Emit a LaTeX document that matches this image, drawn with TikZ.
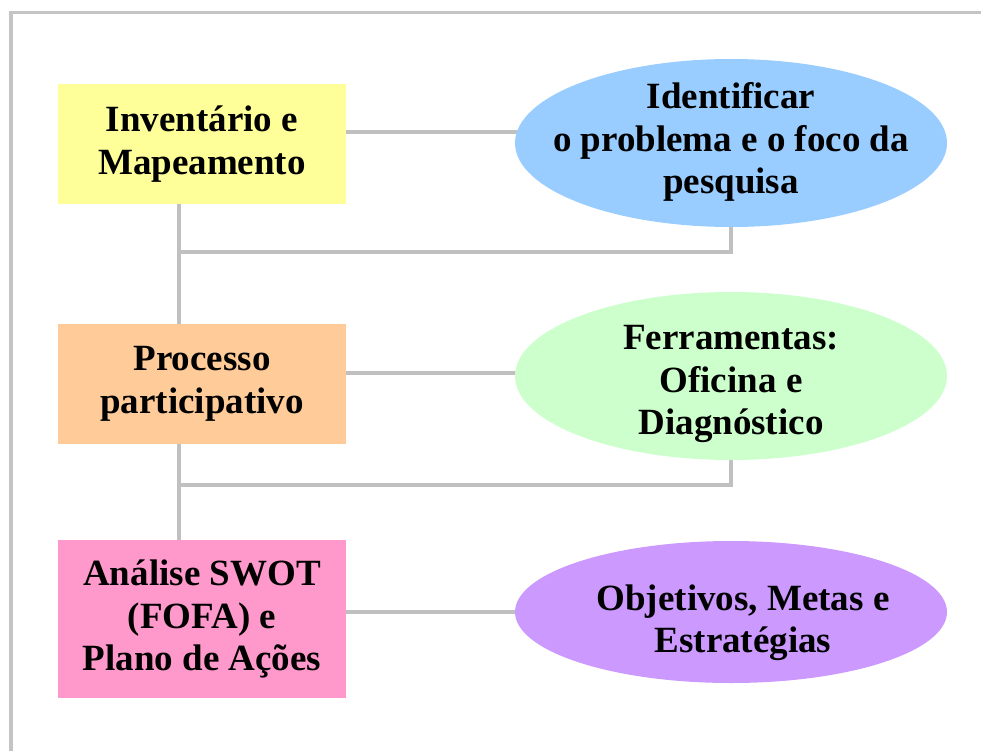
\documentclass[tikz,border=0pt]{standalone}
\usepackage{fontspec}
\setmainfont{Liberation Serif}
\usetikzlibrary{shapes.geometric,backgrounds,calc}
\definecolor{cyellow}{HTML}{FFFF99}
\definecolor{corange}{HTML}{FFCC99}
\definecolor{cpink}{HTML}{FF99CC}
\definecolor{cblue}{HTML}{99CCFF}
\definecolor{cgreen}{HTML}{CCFFCC}
\definecolor{cpurple}{HTML}{CC99FF}
\definecolor{cline}{HTML}{C0C0C0}
\definecolor{cframe}{HTML}{C4C4C4}
\newcommand{\etext}[3]{\raisebox{#2}[0pt][0pt]{\makebox[0pt]{\hspace*{#1}\begin{tabular}{@{}c@{}}#3\end{tabular}}}}
\begin{document}
\begin{tikzpicture}[x=1pt,y=-1pt,
  txt/.style={font=\fontsize{37}{42.5}\selectfont\bfseries},
  box/.style={txt,rectangle,minimum width=288pt,minimum height=120pt,inner sep=0pt,align=center},
  oval/.style={txt,ellipse,minimum width=432pt,minimum height=168pt,inner sep=0pt},
  conn/.style={draw=cline,line width=4pt},
  frameline/.style={draw=cframe,line width=3.5pt}]
\useasboundingbox (0,0) rectangle (981,751);
\node[box,fill=cyellow] (b1) at (202,144) {Inventário e\\Mapeamento};
\node[box,fill=corange] (b2) at (202,384) {Processo\\participativo};
\node[box,fill=cpink,minimum height=158pt] (b3) at (202,619) {Análise SWOT\\(FOFA) e\\Plano de Ações};
\node[oval,fill=cblue] (e1) at (731,143) {\etext{0pt}{-6pt}{Identificar\\o problema e o foco da\\pesquisa}};
\node[oval,fill=cgreen] (e2) at (731,376) {\etext{0pt}{-14pt}{Ferramentas:\\Oficina e\\Diagnóstico}};
\node[oval,fill=cpurple,minimum height=142pt] (e3) at (731,612) {\etext{24pt}{-17pt}{Objetivos, Metas e\\Estratégias}};
\coordinate (t1) at ([xshift=-23pt]b1.south);
\coordinate (t3) at ([xshift=-23pt]b3.north);
\begin{pgfonlayer}{background}
\draw[frameline] (11,751) -- (11,12.5) -- (981,12.5);
\draw[conn] (t1) -- (t3);
\draw[conn] ([yshift=12pt]b1.east) -- ([yshift=12pt]b1.east -| e1.center);
\draw[conn] ([yshift=11pt]b2.east) -- ([yshift=11pt]b2.east -| e2.center);
\draw[conn] ([yshift=7pt]b3.east) -- ([yshift=7pt]b3.east -| e3.center);
\draw[conn] (e1.south) |- ($(t1)+(0,48)$);
\draw[conn] (e2.south) |- ($(b2.south -| t1)+(0,41)$);
\end{pgfonlayer}
\end{tikzpicture}
\end{document}
